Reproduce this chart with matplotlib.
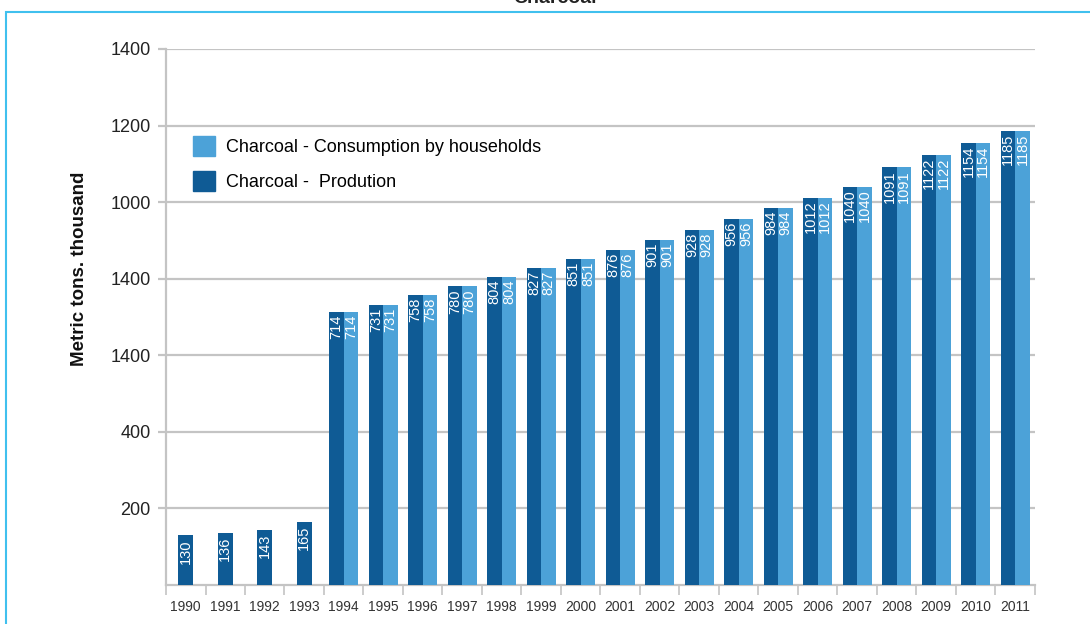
import numpy as np
import matplotlib
matplotlib.use("Agg")
import matplotlib.pyplot as plt
from matplotlib.patches import Rectangle, Patch

plt.rcParams['font.family'] = ['Liberation Sans', 'DejaVu Sans']

years = [str(y) for y in range(1990, 2012)]
production = [130, 136, 143, 165, 714, 731, 758, 780, 804, 827, 851, 876,
              901, 928, 956, 984, 1012, 1040, 1091, 1122, 1154, 1185]
consumption = [None, None, None, None, 714, 731, 758, 780, 804, 827, 851, 876,
               901, 928, 956, 984, 1012, 1040, 1091, 1122, 1154, 1185]
ytick_vals = [200, 400, 600, 800, 1000, 1200, 1400]
ytick_text = ["200", "400", "1400", "1400", "1000", "1200", "1400"]

dark = "#0F5B95"
light = "#4CA2D8"
grid_col = "#C4C4C4"
bw = 0.37

fig = plt.figure(figsize=(10.9, 6.24), dpi=100)
ax = fig.add_axes([0.1523, 0.0625, 0.7972, 0.859])

x = np.arange(len(years))
for i in x:
    p = production[i]
    c = consumption[i]
    if c is None:
        ax.bar(i, p, width=bw, color=dark, zorder=3)
        ax.text(i, p - 10, str(p), rotation=90, ha="center", va="top",
                color="white", fontsize=10.5, zorder=4)
    else:
        ax.bar(i - bw / 2, p, width=bw, color=dark, zorder=3)
        ax.bar(i + bw / 2, c, width=bw, color=light, zorder=3)
        ax.text(i - bw / 2, p - 7, str(p), rotation=90, ha="center", va="top",
                color="white", fontsize=10.5, zorder=4)
        ax.text(i + bw / 2, c - 7, str(c), rotation=90, ha="center", va="top",
                color="white", fontsize=10.5, zorder=4)

ax.set_xlim(-0.5, len(years) - 0.5)
ax.set_ylim(0, 1400)
ax.set_yticks(ytick_vals)
ax.set_yticklabels(ytick_text, fontsize=13, color="#222222")
ax.yaxis.grid(True, color=grid_col, linewidth=1.6, zorder=0)
ax.set_axisbelow(True)

# year labels at centres, small ticks on category boundaries
ax.set_xticks(x)
ax.set_xticklabels(years, fontsize=10, color="#333333")
ax.tick_params(axis="x", length=0, pad=11)
ax.set_xticks(np.arange(-0.5, len(years), 1), minor=True)
ax.tick_params(axis="x", which="minor", length=7, color=grid_col, width=1.2)
ax.tick_params(axis="y", length=6, color=grid_col, width=1.6, pad=5)

for s in ["top", "right"]:
    ax.spines[s].set_visible(False)
ax.spines["left"].set_color(grid_col)
ax.spines["left"].set_linewidth(1.6)
ax.spines["bottom"].set_color(grid_col)
ax.spines["bottom"].set_linewidth(1.6)

fig.text(80 / 1090, 1 - 269 / 624, "Metric tons. thousand", rotation=90,
         ha="center", va="center", fontsize=13.5, fontweight="bold",
         color="#111111")

handles = [Patch(color=light, label="Charcoal - Consumption by households"),
           Patch(color=dark, label="Charcoal -  Prodution")]
ax.legend(handles=handles, loc="upper left", bbox_to_anchor=(0.012, 0.868),
          frameon=False, fontsize=13, handlelength=1.25, handleheight=1.3,
          labelspacing=0.85, handletextpad=0.6)

# outer light-blue frame and clipped title
fig.patches.append(Rectangle((6 / 1090, -0.2), 1.2, 1.2 - 12 / 624,
                             transform=fig.transFigure, fill=False,
                             edgecolor="#40C0EE", linewidth=1.5))
fig.text(555 / 1090, 1 - 3 / 624, "Charcoal", ha="center", va="baseline",
         fontsize=14, fontweight="bold", color="#222222")

fig.savefig("out.png", dpi=100)
